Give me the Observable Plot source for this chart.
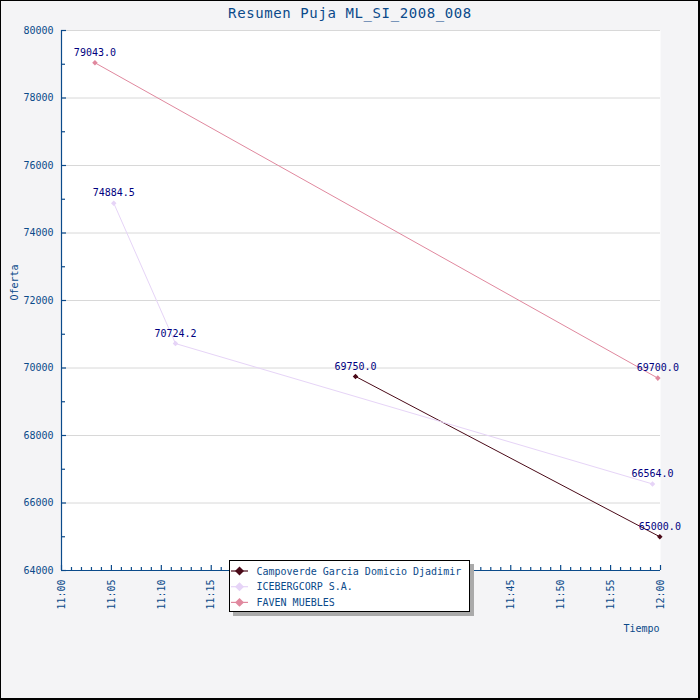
<!DOCTYPE html>
<html><head><meta charset="utf-8">
<script src="https://cdn.jsdelivr.net/npm/d3@7"></script>
<script src="https://cdn.jsdelivr.net/npm/@observablehq/plot@0.6"></script>
<style>
body{margin:0;background:#fff}
#wrap{position:relative;width:700px;height:700px;background:#f4f4f6;font-family:"DejaVu Sans Mono",monospace;overflow:hidden}
#border{position:absolute;left:0;top:0;width:700px;height:700px;box-sizing:border-box;border:1px solid #000;border-right-width:2px;border-bottom-width:2px;pointer-events:none}
#chart{position:absolute;left:0;top:0}
#title{position:absolute;left:0;top:4px;width:700px;text-align:center;font-size:14px;letter-spacing:0.6px;color:#0b4a8a;line-height:18px}
#legend{position:absolute;left:229px;top:560px;width:241px;height:52px;box-sizing:border-box;background:#fff;border:1px solid #000;box-shadow:4px 4px 0 #aaaaaa}
</style></head><body>
<div id="wrap"><div id="chart"></div><div id="title">Resumen Puja ML_SI_2008_008</div><div id="legend"></div><div id="border"></div></div>
<script>
const seriesNames = ["Campoverde Garcia Domicio Djadimir", "ICEBERGCORP S.A.", "FAVEN MUEBLES"];
const seriesColors = ["#4a0a18", "#e6d4f7", "#e0889e"];
const campoverdeTimes = ["11:29:27", "11:59:56"];
const campoverdeValues = [69750.0, 65000.0];
const icebergTimes = ["11:05:14", "11:11:25", "11:59:12"];
const icebergValues = [74884.5, 70724.2, 66564.0];
const favenTimes = ["11:03:21", "11:59:44"];
const favenValues = [79043.0, 69700.0];
const xDomain = ["11:00:00", "12:00:00"];
const yDomain = [64000, 80000];
const yTickLabels = [64000, 66000, 68000, 70000, 72000, 74000, 76000, 78000, 80000];
const yMinorTicks = [65000, 67000, 69000, 71000, 73000, 75000, 77000, 79000];
const xTickLabels = ["11:00", "11:05", "11:10", "11:15", "11:20", "11:25", "11:30", "11:35", "11:40", "11:45", "11:50", "11:55", "12:00"];
const yTitle = "Oferta";
const xTitle = "Tiempo";

const axisColor = "#0b4a8a";
const parse = s => new Date("2008-01-01T" + (s.length === 5 ? s + ":00" : s));

const seriesTimes = [campoverdeTimes, icebergTimes, favenTimes];
const seriesValues = [campoverdeValues, icebergValues, favenValues];
const data = [];
seriesNames.forEach((name, i) => seriesTimes[i].forEach((t, j) => data.push({series: name, time: parse(t), value: seriesValues[i][j]})));

const x0 = parse(xDomain[0]), x1 = parse(xDomain[1]);
const majorMinutes = xTickLabels.map(parse);
const minorMinutes = d3.timeMinute.range(x0, x1).filter(m => m.getMinutes() % 5 !== 0);

const chart = Plot.plot({
  width: 700, height: 700,
  marginLeft: 61, marginRight: 40, marginTop: 30, marginBottom: 130,
  style: {background: "transparent", fontFamily: "DejaVu Sans Mono", fontSize: "10px", color: axisColor, overflow: "visible"},
  x: {type: "time", domain: [x0, x1]},
  y: {domain: yDomain},
  color: {domain: seriesNames, range: seriesColors},
  marks: [
    Plot.frame({fill: "white", stroke: null}),
    Plot.ruleY(yTickLabels, {stroke: "#d8d8d8", strokeWidth: 1}),
    Plot.lineY(data, {x: "time", y: "value", stroke: "series", strokeWidth: 1}),
    Plot.dot(data, {x: "time", y: "value", fill: "series", symbol: "square", rotate: 45, r: 2.2}),
    Plot.text(data, {x: "time", y: "value", text: d => d.value.toFixed(1), dy: -10, fill: "#000080", fontSize: 10}),
    Plot.ruleX([x0], {stroke: axisColor, strokeWidth: 1.2}),
    Plot.ruleY([yDomain[0]], {stroke: axisColor, strokeWidth: 1.2}),
    Plot.ruleY(yTickLabels, {x1: x0, x2: x0, insetRight: -5, stroke: axisColor, strokeWidth: 1.2}),
    Plot.ruleY(yMinorTicks, {x1: x0, x2: x0, insetRight: -4, stroke: axisColor, strokeWidth: 1.2}),
    Plot.ruleX(majorMinutes, {y1: yDomain[0], y2: yDomain[0], insetTop: -5, stroke: axisColor, strokeWidth: 1.2}),
    Plot.ruleX(minorMinutes, {y1: yDomain[0], y2: yDomain[0], insetTop: -3, stroke: axisColor, strokeWidth: 1.2}),
    Plot.axisY({ticks: yTickLabels, tickSize: 0, tickPadding: 8, tickFormat: d => String(d), label: null, fill: axisColor, fontSize: 10}),
    Plot.axisX({ticks: majorMinutes, tickSize: 0, tickPadding: 9, tickRotate: -90, tickFormat: d3.timeFormat("%H:%M"), label: null, fill: axisColor, fontSize: 10}),
    Plot.text([yTitle], {frameAnchor: "left", dx: -47, rotate: -90, fill: axisColor, fontSize: 10}),
    Plot.text([xTitle], {frameAnchor: "bottom-right", textAnchor: "end", dx: -1, dy: 61, fill: axisColor, fontSize: 10})
  ]
});
document.getElementById("chart").appendChild(chart);

// legend
const lg = d3.select("#legend").append("svg").attr("width", 239).attr("height", 50).style("display", "block");
seriesNames.forEach((name, i) => {
  const cy = 10 + i * 15.7;
  lg.append("line").attr("x1", 1).attr("x2", 18).attr("y1", cy).attr("y2", cy).attr("stroke", seriesColors[i]).attr("stroke-width", 1.2);
  lg.append("path").attr("d", d3.symbol(d3.symbolSquare, 40)()).attr("transform", `translate(9.5,${cy}) rotate(45)`).attr("fill", seriesColors[i]);
  lg.append("text").attr("x", 26.5).attr("y", cy).attr("dy", "0.35em").attr("fill", axisColor)
    .style("font-family", "DejaVu Sans Mono").style("font-size", "10px").text(name);
});
</script>
</body></html>
